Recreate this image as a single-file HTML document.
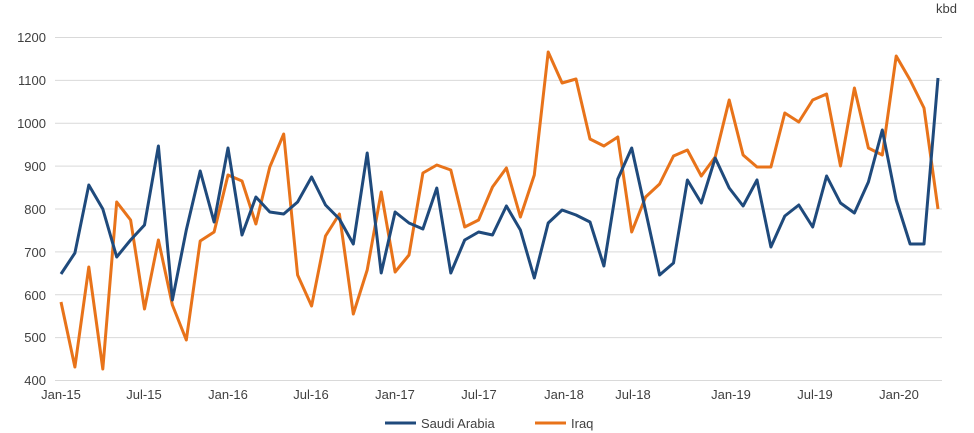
<!DOCTYPE html>
<html><head><meta charset="utf-8"><style>
html,body{margin:0;padding:0;background:#fff;}
svg{display:block;font-family:"Liberation Sans",sans-serif;}
</style></head><body>
<svg width="974" height="433" viewBox="0 0 974 433" xmlns="http://www.w3.org/2000/svg">
<g stroke="#d9d9d9" stroke-width="1">
<line x1="55" x2="942" y1="37.5" y2="37.5"/>
<line x1="55" x2="942" y1="80.4" y2="80.4"/>
<line x1="55" x2="942" y1="123.3" y2="123.3"/>
<line x1="55" x2="942" y1="166.1" y2="166.1"/>
<line x1="55" x2="942" y1="209" y2="209"/>
<line x1="55" x2="942" y1="251.9" y2="251.9"/>
<line x1="55" x2="942" y1="294.8" y2="294.8"/>
<line x1="55" x2="942" y1="337.6" y2="337.6"/>
<line x1="55" x2="942" y1="380.5" y2="380.5"/>
</g>
<g font-size="13" fill="#404040" text-anchor="end">
<text x="46" y="42">1200</text>
<text x="46" y="85">1100</text>
<text x="46" y="128">1000</text>
<text x="46" y="171">900</text>
<text x="46" y="214">800</text>
<text x="46" y="257">700</text>
<text x="46" y="300">600</text>
<text x="46" y="342">500</text>
<text x="46" y="385">400</text>
</g>
<text x="957" y="13" font-size="13" fill="#404040" text-anchor="end">kbd</text>
<g font-size="13" fill="#404040" text-anchor="middle">
<text x="61" y="399">Jan-15</text>
<text x="144" y="399">Jul-15</text>
<text x="228" y="399">Jan-16</text>
<text x="311" y="399">Jul-16</text>
<text x="395" y="399">Jan-17</text>
<text x="479" y="399">Jul-17</text>
<text x="564" y="399">Jan-18</text>
<text x="633" y="399">Jul-18</text>
<text x="731" y="399">Jan-19</text>
<text x="815" y="399">Jul-19</text>
<text x="899" y="399">Jan-20</text>
</g>
<polyline fill="none" stroke="#e8731a" stroke-width="3" stroke-linejoin="round" points="
61,302 74.9,367 88.8,267 102.8,369 116.7,202 130.6,220 144.5,309 158.4,240 172.4,305 186.3,340
200.2,241 214.1,232 228,175 242,181 255.9,224 269.8,167 283.7,134 297.6,275 311.6,306 325.5,236
339.4,214 353.3,314 367.2,270 381.2,192 395.1,272 409,255 422.9,173 436.8,165 450.8,170 464.7,227
478.6,220 492.5,187 506.4,168 520.4,217 534.3,175 548.2,52 562.1,83 576,79 590,139 603.9,146
617.8,137 631.7,232 645.6,197 659.6,184 673.5,156 687.4,150 701.3,176 715.2,157 729.2,100 743.1,155
757,167 770.9,167 784.8,113 798.8,122 812.7,100 826.6,94 840.5,166 854.4,88 868.4,148 882.3,155
896.2,56 910.1,80 924,108 938,209"/>
<polyline fill="none" stroke="#1f4a7c" stroke-width="3" stroke-linejoin="round" points="
61,274 74.9,253 88.8,185 102.8,209 116.7,257 130.6,240 144.5,225 158.4,146 172.4,300 186.3,230
200.2,171 214.1,222 228,148 242,235 255.9,197 269.8,212 283.7,214 297.6,202 311.6,177 325.5,205
339.4,219 353.3,244 367.2,153 381.2,273 395.1,212 409,223 422.9,229 436.8,188 450.8,273 464.7,240
478.6,232 492.5,235 506.4,206 520.4,230 534.3,278 548.2,223 562.1,210 576,215 590,222 603.9,266
617.8,179 631.7,148 645.6,211 659.6,275 673.5,263 687.4,180 701.3,203 715.2,158 729.2,188 743.1,206
757,180 770.9,247 784.8,216 798.8,205 812.7,227 826.6,176 840.5,203 854.4,213 868.4,182 882.3,130
896.2,200 910.1,244 924,244 938,78"/>
<line x1="385" x2="416" y1="423" y2="423" stroke="#1f4a7c" stroke-width="3"/>
<text x="421" y="428" font-size="13" fill="#404040">Saudi Arabia</text>
<line x1="535" x2="566" y1="423" y2="423" stroke="#e8731a" stroke-width="3"/>
<text x="571" y="428" font-size="13" fill="#404040">Iraq</text>
</svg>
</body></html>
